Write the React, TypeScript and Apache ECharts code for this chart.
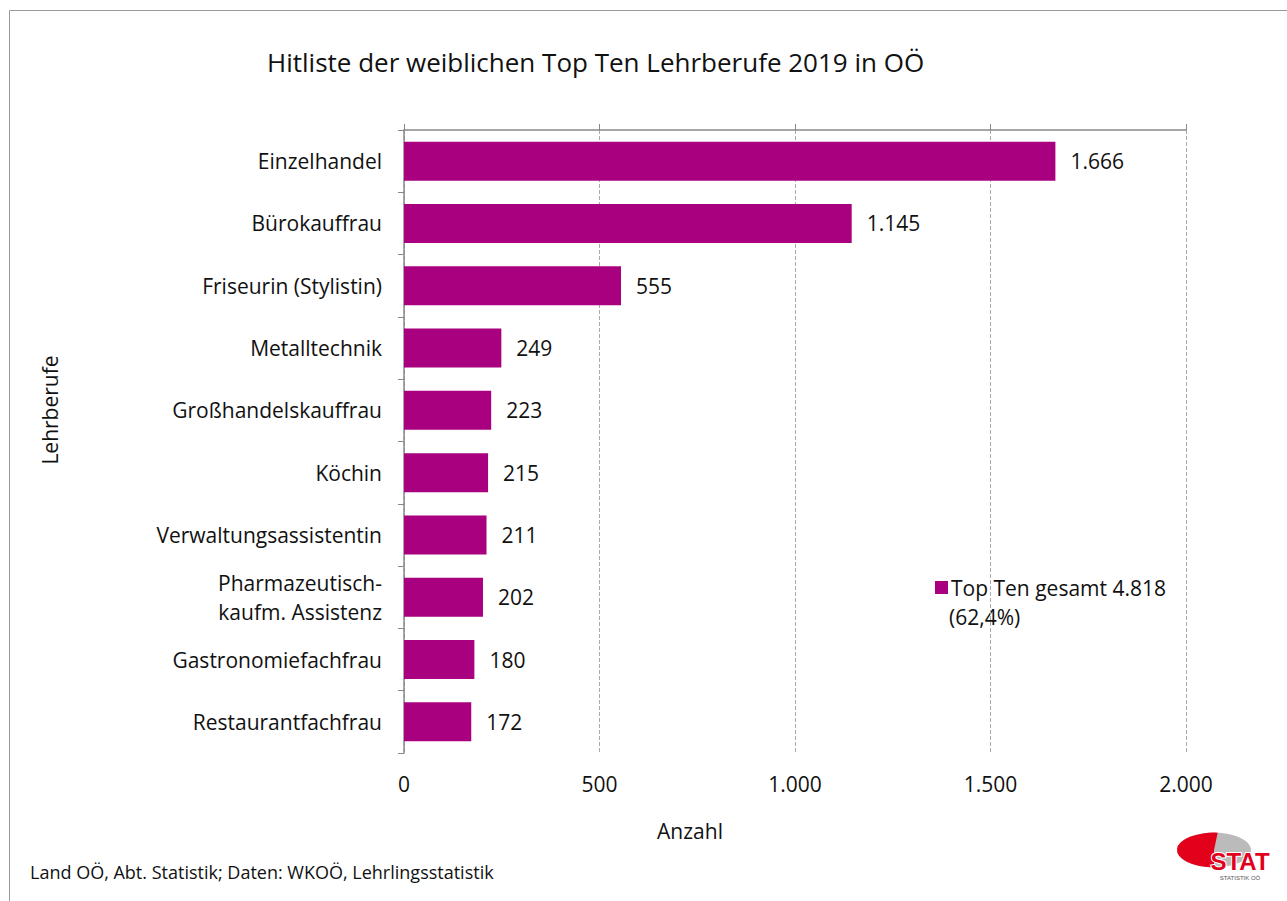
import React, { useEffect, useRef } from "react";
import * as echarts from "echarts";

const categories = [
  "Einzelhandel",
  "Bürokauffrau",
  "Friseurin (Stylistin)",
  "Metalltechnik",
  "Großhandelskauffrau",
  "Köchin",
  "Verwaltungsassistentin",
  "Pharmazeutisch-\nkaufm. Assistenz",
  "Gastronomiefachfrau",
  "Restaurantfachfrau",
];
const values = [1666, 1145, 555, 249, 223, 215, 211, 202, 180, 172];
const seriesName = "Top Ten gesamt 4.818";
const seriesSub = "(62,4%)";

const FONT = "'Open Sans', sans-serif";
const fmt = (v: number) => String(v).replace(/\B(?=(\d{3})+(?!\d))/g, ".");

export default function App() {
  const ref = useRef<HTMLDivElement>(null);
  useEffect(() => {
    const chart = echarts.init(ref.current!, null, { renderer: "svg" });
    chart.setOption({
      animation: false,
      backgroundColor: "#fff",
      textStyle: { fontFamily: FONT },
      title: {
        text: "Hitliste der weiblichen Top Ten Lehrberufe 2019 in OÖ",
        left: 262,
        top: 44,
        textStyle: { fontFamily: FONT, fontSize: 26, fontWeight: "normal", color: "#111" },
      },
      legend: {
        data: [seriesName],
        left: 930,
        top: 572,
        itemWidth: 13,
        itemHeight: 13,
        itemGap: 6,
        icon: "rect",
        textStyle: { fontFamily: FONT, fontSize: 21, color: "#111", padding: [0, 0, 0, -2] },
      },
      grid: { left: 404, right: 101, top: 130, bottom: 148, containLabel: false },
      xAxis: [
        {
          type: "value",
          position: "bottom",
          min: 0,
          max: 2000,
          interval: 500,
          axisLine: { show: false },
          axisTick: { show: false },
          axisLabel: {
            margin: 20,
            fontFamily: FONT,
            fontSize: 21,
            color: "#111",
            formatter: (v: number) => fmt(v),
          },
          splitLine: { show: true, lineStyle: { color: "#aaa", type: "dashed", width: 1 } },
        },
        {
          type: "value",
          position: "top",
          min: 0,
          max: 2000,
          interval: 500,
          axisLine: { show: true, lineStyle: { color: "#888", width: 1.5 } },
          axisTick: { show: true, length: 6, lineStyle: { color: "#888" } },
          axisLabel: { show: false },
          splitLine: { show: false },
        },
      ],
      yAxis: {
        type: "category",
        data: categories,
        inverse: true,
        axisLine: { show: true, lineStyle: { color: "#888", width: 1.5 } },
        axisTick: { show: true, length: 6, lineStyle: { color: "#888" } },
        axisLabel: {
          margin: 22,
          fontFamily: FONT,
          fontSize: 21,
          color: "#111",
          align: "right",
          lineHeight: 29,
        },
      },
      series: [
        {
          name: seriesName,
          type: "bar",
          xAxisIndex: 0,
          data: values,
          barWidth: 39,
          itemStyle: { color: "#A8007F" },
          label: {
            show: true,
            position: "right",
            distance: 15,
            fontFamily: FONT,
            fontSize: 21,
            color: "#111",
            formatter: (p: any) => fmt(p.value),
          },
        },
      ],
      graphic: [
        {
          type: "rect",
          shape: { x: 9.5, y: 10.5, width: 1400, height: 1000 },
          style: { fill: "none", stroke: "#999", lineWidth: 1 },
          silent: true,
          z: -10,
        },
        {
          type: "text",
          x: 949,
          y: 617,
          style: {
            text: seriesSub,
            font: `21px ${FONT}`,
            fill: "#111",
            verticalAlign: "middle",
          },
        },
        {
          type: "text",
          x: 50,
          y: 410,
          rotation: Math.PI / 2,
          style: {
            text: "Lehrberufe",
            font: `21px ${FONT}`,
            fill: "#111",
            align: "center",
            verticalAlign: "middle",
          },
        },
        {
          type: "text",
          x: 690,
          y: 831,
          style: {
            text: "Anzahl",
            font: `21px ${FONT}`,
            fill: "#111",
            align: "center",
            verticalAlign: "middle",
          },
        },
        {
          type: "text",
          x: 30,
          y: 872,
          style: {
            text: "Land OÖ, Abt. Statistik; Daten: WKOÖ, Lehrlingsstatistik",
            font: `18px ${FONT}`,
            fill: "#111",
            verticalAlign: "middle",
          },
        },
        {
          type: "group",
          x: 1214,
          y: 850,
          scaleY: 0.47,
          children: [
            { type: "circle", shape: { cx: 0, cy: 0, r: 37 }, style: { fill: "#bbb" } },
            {
              type: "sector",
              shape: { cx: 0, cy: 0, r: 37, startAngle: Math.PI / 2, endAngle: (3 * Math.PI) / 2 + 0.1 },
              style: { fill: "#e3001b" },
            },
          ],
        },
        {
          type: "text",
          x: 1240,
          y: 861,
          style: {
            text: "STAT",
            font: `bold 24px 'Liberation Sans', sans-serif`,
            fill: "#e3001b",
            stroke: "#fff",
            lineWidth: 2,
            align: "center",
            verticalAlign: "middle",
          },
        },
        {
          type: "text",
          x: 1240,
          y: 878,
          style: {
            text: "STATISTIK OÖ",
            font: `6px 'Liberation Sans', sans-serif`,
            fill: "#555",
            align: "center",
            verticalAlign: "middle",
          },
        },
      ],
    });
    return () => chart.dispose();
  }, []);
  return (
    <div
      ref={ref}
      style={{ position: "absolute", left: 0, top: 0, width: 1287, height: 901 }}
    />
  );
}
